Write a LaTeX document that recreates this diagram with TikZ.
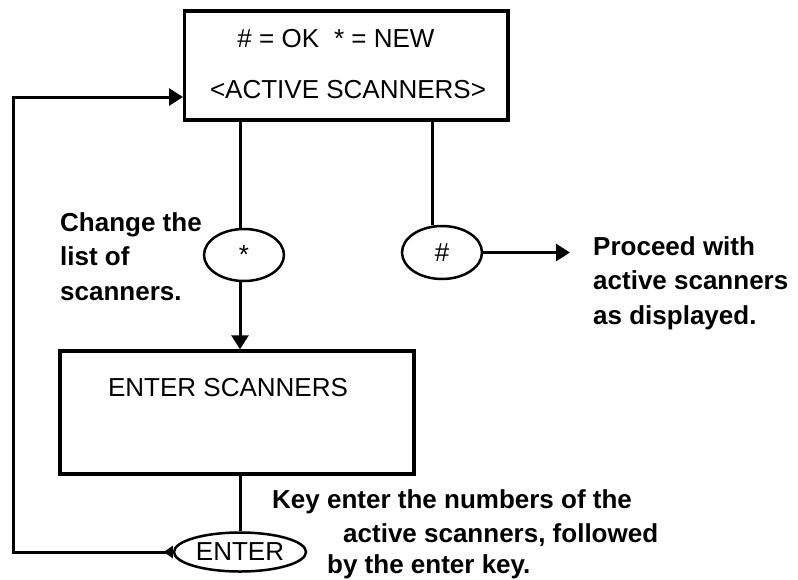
\documentclass[tikz,border=0pt]{standalone}
\usepackage{fontspec}
\setmainfont{Liberation Sans}
\usetikzlibrary{arrows.meta,shapes.geometric}
\begin{document}
\begin{tikzpicture}[x=1pt,y=-1pt,
  box/.style={draw,line width=3.5pt,inner sep=0pt},
  oval/.style={draw,ellipse,line width=2.5pt,inner sep=0pt,
    font=\fontsize{26}{30}\selectfont},
  boxtext/.style={inner sep=0pt,font=\fontsize{26}{30}\selectfont},
  note/.style={inner sep=0pt,align=left,
    font=\fontsize{26}{34.5}\selectfont\bfseries},
  conn/.style={line width=3pt},
  tip/.style={-{Triangle[length=14pt,width=17pt]}}]
\useasboundingbox (0,0) rectangle (798,579);

% main menu box
\node[box,minimum width=323.5pt,minimum height=109pt] (top) at (346.3,65.7) {};
\node[boxtext,anchor=base] (legend) at (336,47) {\# = OK\hspace{15pt}* = NEW};
\node[boxtext,anchor=base] (active) at (348,98) {<ACTIVE SCANNERS>};

% the two choices
\node[oval,minimum width=80pt,minimum height=52pt] (star) at (244,255) {*};
\node[oval,minimum width=80pt,minimum height=53pt] (hash) at (442,252.5) {\#};

% entry box
\node[box,minimum width=354pt,minimum height=123pt] (bot) at (237,412.5) {};
\node[boxtext,anchor=base] (entertitle) at (228,396) {ENTER SCANNERS};

% enter key
\node[oval,minimum width=132pt,minimum height=39pt] (enter) at (240,552) {ENTER};

% annotations
\node[note,anchor=north west] (change) at (60,212.4) {Change the\\list of\\scanners.};
\node[note,anchor=north west] (proceed) at (593,236.4) {Proceed with\\active scanners\\as displayed.};
\node[note,anchor=base west] (keyA) at (272,508) {Key enter the numbers of the};
\node[note,anchor=base west] (keyB) at (343,542) {active scanners, followed};
\node[note,anchor=base west] (keyC) at (327,573) {by the enter key.};

% connector anchor points
\coordinate (top-star) at (240,120);
\coordinate (top-hash) at (432,120);
\coordinate (proceed-end) at (570,252.5);
\coordinate (loop-corner) at (13,552);
\coordinate (top-in) at (183,97);

% connectors
\draw[conn] (top-star) -- (top-star |- star.north);
\draw[conn,tip] (top-star |- star.south) -- (top-star |- bot.north);
\draw[conn] (top-hash) -- (top-hash |- hash.north);
\draw[conn,tip] (hash.east) -- (proceed-end);
\draw[conn] (enter.north |- bot.south) -- (enter.north);
\draw[conn,{Triangle[reversed,length=9pt,width=12pt]}-{Triangle[length=14pt,width=17pt]}]
  (enter.west) -- (loop-corner) |- (top-in);
\end{tikzpicture}
\end{document}
